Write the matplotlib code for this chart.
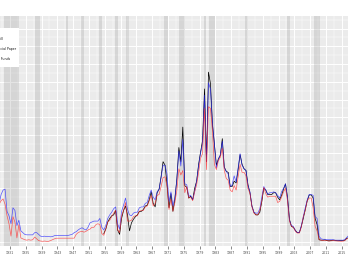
import numpy as np
import matplotlib
matplotlib.use("Agg")
import matplotlib.pyplot as plt
from matplotlib.patches import Rectangle

# ---- data (semi-annual readings, percent) ----
years = np.arange(1928.0, 2017.0, 0.5)

tbill = [
    4.2, 4.6,   4.8, 4.2,   2.9, 2.0,   0.6, 2.8,   2.2, 0.4,   1.9, 0.4,
    0.3, 0.2,   0.15, 0.2,  0.15, 0.2,  0.5, 0.3,   0.1, 0.05,  0.02, 0.05,
    0.02, 0.02, 0.1, 0.2,   0.3, 0.37,  0.375, 0.375, 0.375, 0.375, 0.375, 0.375,
    0.375, 0.375, 0.375, 0.8, 1.0, 1.1, 1.15, 1.05, 1.15, 1.3, 1.4, 1.6,
    1.6, 1.9,   2.0, 1.9,   0.9, 0.7,   1.4, 2.2,   2.4, 2.8,   3.2, 3.5,
    1.3, 1.0,   2.9, 3.5,   4.4, 2.3,   2.3, 2.4,   2.8, 2.9,   2.9, 3.4,
    3.5, 3.5,   3.9, 4.0,   4.6, 5.2,   4.0, 4.3,   5.2, 5.3,   6.2, 7.2,
    7.3, 6.2,   3.6, 4.8,   3.4, 4.4,   5.8, 8.2,   7.5, 8.0,   5.5, 6.2,
    4.9, 5.0,   4.6, 5.6,   6.4, 7.8,   9.4, 9.9,   15.0, 8.1,  15.2, 15.0,
    12.5, 8.7,  8.1, 9.1,   9.5, 10.5,  8.0, 7.1,   6.9, 5.8,   5.6, 6.3,
    5.8, 7.3,   8.7, 7.8,   7.8, 7.4,   6.0, 5.4,   3.9, 3.2,   3.0, 3.0,
    3.5, 4.6,   6.1, 5.4,   5.0, 5.1,   5.1, 5.1,   5.1, 4.4,   4.5, 5.0,
    5.6, 6.0,   4.6, 2.3,   1.7, 1.6,   1.15, 0.95, 0.95, 1.6,  2.8, 3.5,
    4.6, 4.9,   4.9, 3.8,   1.7, 1.2,   0.2, 0.15,  0.12, 0.14, 0.1, 0.05,
    0.08, 0.1,  0.08, 0.05, 0.04, 0.03, 0.03, 0.1,  0.3, 0.35,
]

cpaper = [
    4.3, 5.3,   5.8, 5.9,   3.4, 2.9,   2.0, 3.8,   3.5, 1.8,   2.4, 1.2,
    1.0, 0.8,   0.75, 0.75, 0.75, 0.75, 1.0, 1.0,   0.8, 0.6,   0.56, 0.6,
    0.56, 0.56, 0.53, 0.55, 0.66, 0.69, 0.69, 0.69, 0.69, 0.69, 0.69, 0.69,
    0.75, 0.81, 1.0, 1.1,   1.3, 1.45,  1.55, 1.4,  1.3, 1.6,   2.1, 2.2,
    2.3, 2.3,   2.3, 2.6,   1.6, 1.3,   1.8, 2.6,   3.0, 3.3,   3.7, 3.9,
    2.0, 1.4,   3.4, 4.1,   4.9, 3.6,   3.0, 2.9,   3.2, 3.3,   3.3, 3.8,
    3.9, 3.9,   4.3, 4.4,   5.2, 5.8,   5.0, 4.7,   5.6, 5.9,   7.2, 8.6,
    8.6, 7.6,   4.5, 5.6,   4.0, 5.0,   7.0, 10.2,  8.5, 11.5,  6.5, 6.4,
    5.1, 5.2,   4.7, 5.6,   6.8, 8.5,   10.0, 11.0, 16.5, 9.0,  17.9, 17.2,
    13.4, 11.0, 8.3, 9.3,   9.8, 11.3,  8.3, 7.9,   7.6, 6.2,   6.4, 7.4,
    6.7, 8.3,   9.9, 8.6,   8.2, 8.0,   6.3, 5.6,   4.0, 3.3,   3.2, 3.2,
    3.7, 5.0,   6.2, 5.8,   5.3, 5.5,   5.5, 5.6,   5.5, 5.2,   4.9, 5.6,
    6.0, 6.5,   4.9, 2.4,   1.8, 1.7,   1.2, 1.0,   1.0, 1.8,   2.8, 3.8,
    4.7, 5.3,   5.3, 5.2,   2.8, 2.6,   0.6, 0.3,   0.25, 0.25, 0.2, 0.2,
    0.2, 0.2,   0.15, 0.15, 0.15, 0.15, 0.15, 0.2,  0.45, 0.7,
]

ffunds = [np.nan] * 53 + [
    0.9,
    1.4, 2.2,   2.6, 2.9,   3.0, 3.5,   1.3, 0.8,   2.6, 3.5,   4.0, 3.0,
    1.2, 2.1,   2.5, 2.8,   3.0, 3.4,   3.4, 3.6,   4.0, 4.1,   4.7, 5.6,
    4.3, 3.9,   5.5, 5.9,   7.3, 9.0,   8.6, 6.5,   3.8, 5.4,   3.4, 4.8,
    7.1, 10.6,  9.0, 12.9,  6.3, 6.1,   4.9, 5.1,   4.7, 6.0,   6.8, 8.7,
    10.1, 11.4, 17.2, 9.0,  19.1, 17.8, 13.2, 11.0, 8.6, 9.3,   9.7, 11.6,
    8.4, 7.9,   7.8, 6.2,   6.2, 6.8,   6.6, 8.1,   9.8, 8.7,   8.2, 8.0,
    6.4, 5.5,   4.0, 3.3,   3.0, 3.0,   3.3, 4.5,   6.0, 5.8,   5.3, 5.3,
    5.3, 5.5,   5.5, 5.0,   4.7, 5.2,   5.9, 6.5,   5.0, 2.5,   1.7, 1.6,
    1.25, 1.0,  1.0, 1.7,   2.6, 3.6,   4.6, 5.25,  5.25, 4.9,  2.6, 1.9,
    0.2, 0.15,  0.15, 0.18, 0.1, 0.08,  0.1, 0.15,  0.14, 0.09, 0.09, 0.12,
    0.12, 0.14, 0.38, 0.4,
]

labels = ["3M T-Bill", "Commercial Paper", "Fed Funds"]
colors = ["#FF2020", "#2020FF", "black"]

tick_years = list(range(1931, 2016, 4))

recessions = [(1929.6, 1933.2), (1937.4, 1938.5), (1945.1, 1945.8),
              (1948.9, 1949.8), (1953.5, 1954.4), (1957.6, 1958.3),
              (1960.3, 1961.1), (1969.9, 1970.9), (1973.9, 1975.2),
              (1980.0, 1980.5), (1981.5, 1982.9), (1990.5, 1991.2),
              (2001.2, 2001.9), (2007.9, 2009.5)]

# ---- figure ----
W, H = 348, 268
fig = plt.figure(figsize=(W / 100, H / 100), dpi=100)

px_per_year = 3.95
x0_year = 1928.47
left_px, right_px = -60, 348
top_px, bot_px = 16, 246
zero_px, px_per_pct = 241.5, 8.87

ax = fig.add_axes([left_px / W, 1 - bot_px / H,
                   (right_px - left_px) / W, (bot_px - top_px) / H])
ax.set_facecolor("#EBEBEB")
ax.set_xlim(x0_year + left_px / px_per_year, x0_year + right_px / px_per_year)
ax.set_ylim(-(bot_px - zero_px) / px_per_pct, (zero_px - top_px) / px_per_pct)

for s in ax.spines.values():
    s.set_visible(False)

ax.set_xticks(tick_years)
ax.set_xticklabels([str(y) for y in tick_years])
ax.set_xticks([y + 2 for y in tick_years[:-1]] + [tick_years[0] - 2], minor=True)
ax.set_yticks(np.arange(0, 26, 2))
ax.set_yticks(np.arange(1, 26, 2), minor=True)
ax.grid(True, which="major", color="white", linewidth=0.7)
ax.grid(True, which="minor", color="white", linewidth=0.35)
ax.set_axisbelow(True)
ax.tick_params(axis="x", which="major", length=2, width=0.4, color="#333333",
               labelsize=2.3, labelcolor="#4D4D4D", pad=1.5)
ax.tick_params(axis="x", which="minor", length=0)
ax.tick_params(axis="y", which="both", length=0, labelleft=False)

for a, b in recessions:
    ax.axvspan(a, b, color="#808080", alpha=0.2, linewidth=0, zorder=1)

x = years + 0.25
ax.plot(x, ffunds, color=colors[2], linewidth=0.5, zorder=3)
ax.plot(x, cpaper, color=colors[1], linewidth=0.5, alpha=0.75, zorder=4)
ax.plot(x, tbill, color=colors[0], linewidth=0.5, alpha=0.7, zorder=5)

# legend box (left part falls outside the cropped canvas)
fig.patches.append(Rectangle((-40 / W, 1 - 66.7 / H), 59.3 / W, 39 / H,
                             transform=fig.transFigure, facecolor="white",
                             edgecolor="none", zorder=10))
for i, (lab, c) in enumerate(zip(labels, colors)):
    yy = 39 + 10 * i
    fig.text(16.3 / W if i == 1 else (2.3 / W if i == 0 else 10.3 / W),
             1 - yy / H, lab, ha="right", va="center", fontsize=2.3,
             color="#1A1A1A", zorder=11)

fig.savefig("out.png", dpi=100)
